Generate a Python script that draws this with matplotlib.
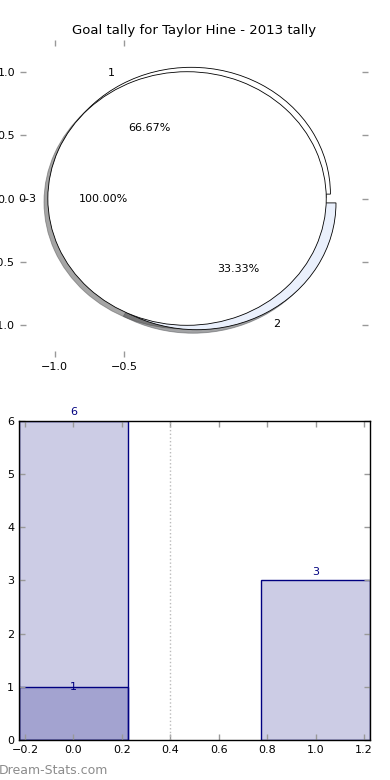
import matplotlib
matplotlib.use("Agg")
import matplotlib.pyplot as plt

# ---- data ----
title = "Goal tally for Taylor Hine - 2013 tally"
outer_labels = ["1", "2"]
outer_values = [6, 3]
inner_labels = ["0-3"]
inner_values = [9]
pie_yticks = [-1.0, -0.5, 0.0, 0.5, 1.0]
pie_xticks = [-1.0, -0.5]

bar_x = [0, 1]
bar_values = [6, 3]
overlay_x = [0]
overlay_values = [1]
divider_x = 0.4
bar_xticks = [-0.2, 0.0, 0.2, 0.4, 0.6, 0.8, 1.0, 1.2]
bar_yticks = [0, 1, 2, 3, 4, 5, 6]

fig = plt.figure(figsize=(3.9, 7.8), dpi=100)
fig.patch.set_facecolor("white")

tick_kw = dict(direction="in", color="#999999", length=4, width=1,
               labelsize=8, top=True, right=True, labelcolor="black")

# ---- pie ----
ax1 = fig.add_axes([0.0513, 0.5423, 0.8923, 0.4064])
wp = dict(edgecolor="black", linewidth=0.6)
tp = dict(fontsize=8)
ax1.pie(outer_values, labels=outer_labels, explode=[0.04, 0.04],
        colors=["white", "#eaf0fc"], autopct="%1.2f%%", shadow=True,
        startangle=0, wedgeprops=wp, textprops=tp, radius=1.0)
ax1.pie(inner_values, labels=inner_labels, explode=[0.05],
        colors=["white"], autopct="%1.2f%%", shadow=True,
        startangle=0, wedgeprops=wp, textprops=tp, radius=1.0,
        labeldistance=1.08)
ax1.set_aspect("auto")
ax1.set_frame_on(False)
ax1.set_xlim(-1.25, 1.25)
ax1.set_ylim(-1.25, 1.25)
ax1.set_xticks(pie_xticks)
ax1.set_yticks(pie_yticks)
ax1.set_xticklabels(["\u22121.0", "\u22120.5"])
ax1.set_yticklabels(["\u22121.0", "\u22120.5", "0.0", "0.5", "1.0"])
ax1.tick_params(axis="both", **tick_kw)
ax1.set_title(title, fontsize=9.5, pad=4)

# ---- bars ----
ax2 = fig.add_axes([0.0487, 0.0513, 0.9, 0.4090])
ax2.bar(bar_x, bar_values, width=0.45, color="navy", alpha=0.2,
        edgecolor="none")
ax2.bar(bar_x, bar_values, width=0.45, facecolor="none",
        edgecolor="navy", linewidth=1)
ax2.bar(overlay_x, overlay_values, width=0.45, color="navy", alpha=0.2,
        edgecolor="none")
ax2.bar(overlay_x, overlay_values, width=0.45, facecolor="none",
        edgecolor="navy", linewidth=1)
for x, v in zip(bar_x, bar_values):
    ax2.text(x, v + 0.07, str(v), ha="center", va="bottom",
             color="navy", fontsize=8, clip_on=False)
for x, v in zip(overlay_x, overlay_values):
    ax2.text(x, v, str(v), ha="center", va="center",
             color="navy", fontsize=8)
ax2.axvline(divider_x, color="#bbbbbb", linestyle=":", linewidth=1)
ax2.set_xlim(-0.225, 1.225)
ax2.set_ylim(0, 6)
ax2.set_xticks(bar_xticks)
ax2.set_yticks(bar_yticks)
ax2.set_xticklabels(["\u22120.2", "0.0", "0.2", "0.4", "0.6", "0.8", "1.0", "1.2"])
ax2.tick_params(axis="both", **tick_kw)
for s in ax2.spines.values():
    s.set_color("black")
    s.set_linewidth(1)

fig.text(-0.003, 0.0128, "Dream-Stats.com", color="#8c8c8c", fontsize=9,
         ha="left", va="center")

fig.savefig("out.png", dpi=100)
